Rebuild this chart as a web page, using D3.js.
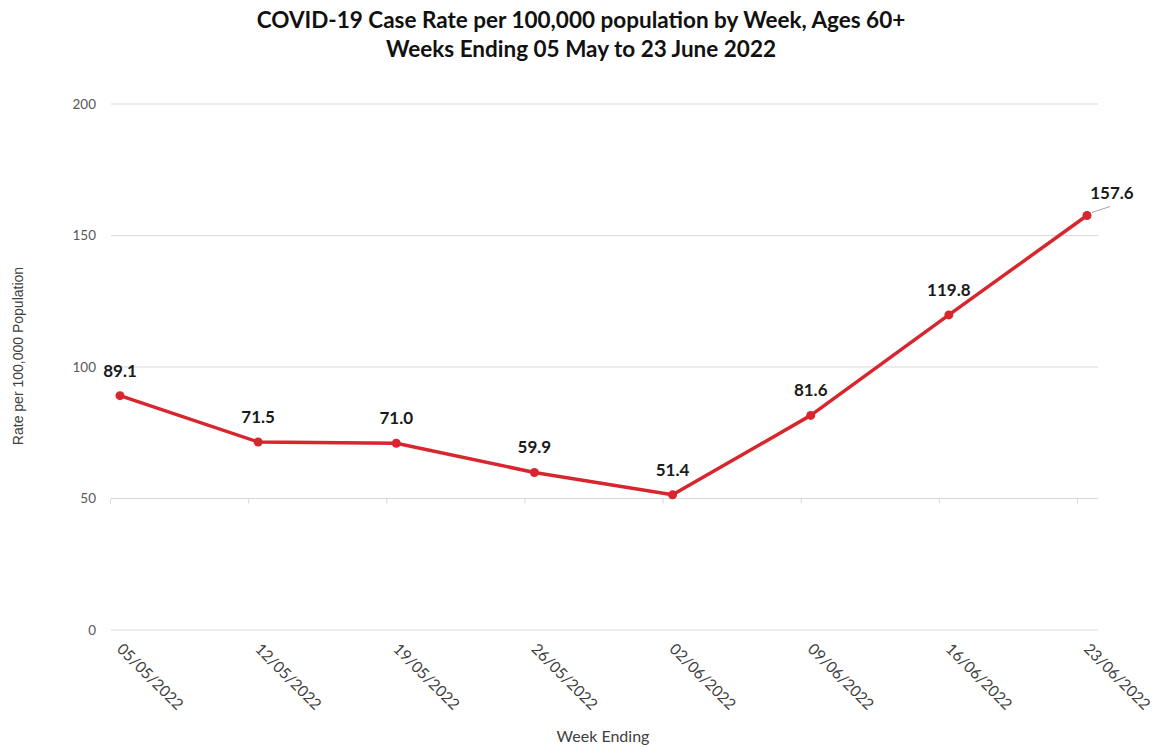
<!DOCTYPE html>
<html><head><meta charset="utf-8">
<script src="https://cdn.jsdelivr.net/npm/d3@7"></script>
<style>body{margin:0;background:#fff}svg{display:block}</style>
</head><body>
<svg id="c" width="1153" height="748"></svg>
<script>
const weeks = ["05/05/2022","12/05/2022","19/05/2022","26/05/2022","02/06/2022","09/06/2022","16/06/2022","23/06/2022"];
const rates = [89.1, 71.5, 71.0, 59.9, 51.4, 81.6, 119.8, 157.6];
const yTicks = [0, 50, 100, 150, 200];
const titleLines = ["COVID-19 Case Rate per 100,000 population by Week, Ages 60+", "Weeks Ending 05 May to 23 June 2022"];

const svg = d3.select("#c");
const font = "Lato, 'Open Sans', sans-serif";
const x = d3.scalePoint().domain(weeks).range([120, 1087]);
const y = d3.scaleLinear().domain([0, 200]).range([630, 104]);

// gridlines
svg.append("g").selectAll("line").data(yTicks).join("line")
  .attr("x1", 111).attr("x2", 1098)
  .attr("y1", d => y(d)).attr("y2", d => y(d))
  .attr("stroke", "#d9d9d9").attr("stroke-width", 1.2);

// y labels
svg.append("g").selectAll("text").data(yTicks).join("text")
  .attr("x", 96).attr("y", d => y(d) + 4.5)
  .attr("text-anchor", "end").attr("font-family", font).attr("font-size", 13.5)
  .attr("fill", "#595959").text(d => d);

// small tick marks on the 50 line
svg.append("g").selectAll("line").data(weeks).join("line")
  .attr("x1", d => x(d) - 9.5).attr("x2", d => x(d) - 9.5)
  .attr("y1", y(50)).attr("y2", y(50) + 5)
  .attr("stroke", "#d9d9d9").attr("stroke-width", 1);

// x labels
svg.append("g").selectAll("text").data(weeks).join("text")
  .attr("transform", d => `translate(${x(d) - 4},${650}) rotate(45)`)
  .attr("font-family", font).attr("font-size", 15.5)
  .attr("fill", "#404040").text(d => d);

// line
svg.append("path").datum(rates)
  .attr("fill", "none").attr("stroke", "#d7262e").attr("stroke-width", 3.5)
  .attr("stroke-linejoin", "round")
  .attr("d", d3.line().x((d, i) => x(weeks[i])).y(d => y(d)));

svg.append("g").selectAll("circle").data(rates).join("circle")
  .attr("cx", (d, i) => x(weeks[i])).attr("cy", d => y(d)).attr("r", 4.5)
  .attr("fill", "#d7262e");

// leader line for last label
const li = rates.length - 1;
svg.append("line")
  .attr("x1", x(weeks[li]) + 5).attr("y1", y(rates[li]) - 3)
  .attr("x2", x(weeks[li]) + 23).attr("y2", y(rates[li]) - 9)
  .attr("stroke", "#a6a6a6").attr("stroke-width", 1);

// data labels
svg.append("g").selectAll("text").data(rates).join("text")
  .attr("x", (d, i) => i === li ? x(weeks[i]) + 25 : x(weeks[i]))
  .attr("y", (d, i) => i === li ? y(d) - 17 : y(d) - 19)
  .attr("text-anchor", "middle").attr("font-family", font)
  .attr("font-weight", "bold").attr("font-size", 17).attr("fill", "#1a1a1a")
  .text(d => d.toFixed(1));

// title
svg.append("g").selectAll("text").data(titleLines).join("text")
  .attr("x", 581).attr("y", (d, i) => 28 + i * 29)
  .attr("text-anchor", "middle").attr("font-family", font)
  .attr("font-weight", "bold").attr("font-size", 22.5).attr("fill", "#111")
  .text(d => d);

// axis titles
svg.append("text").attr("transform", "translate(23,356) rotate(-90)")
  .attr("text-anchor", "middle").attr("font-family", "'Liberation Sans', Arial, sans-serif")
  .attr("font-size", 14).attr("fill", "#404040").text("Rate per 100,000 Population");

svg.append("text").attr("x", 603).attr("y", 742)
  .attr("text-anchor", "middle").attr("font-family", font)
  .attr("font-size", 16).attr("fill", "#404040").text("Week Ending");
</script>
</body></html>
